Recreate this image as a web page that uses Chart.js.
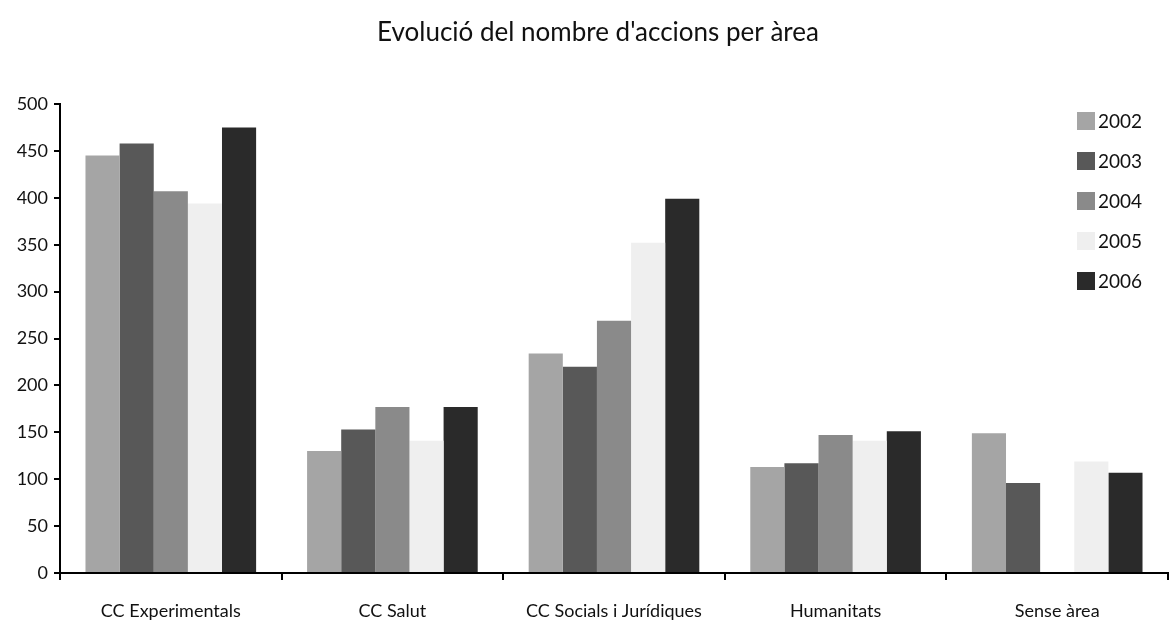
<!DOCTYPE html>
<html>
<head>
<meta charset="utf-8">
<script src="https://cdn.jsdelivr.net/npm/chart.js@4/dist/chart.umd.min.js"></script>
<style>
html,body{margin:0;padding:0;background:#fff;}
#wrap{position:relative;width:1169px;height:623px;}
</style>
</head>
<body>
<div id="wrap"><canvas id="c" width="1169" height="623"></canvas></div>
<script>
const categories = ["CC Experimentals", "CC Salut", "CC Socials i Jurídiques", "Humanitats", "Sense àrea"];
const years = ["2002", "2003", "2004", "2005", "2006"];
const v2002 = [445, 130, 234, 113, 149];
const v2003 = [458, 153, 220, 117, 96];
const v2004 = [407, 177, 269, 147, 0];
const v2005 = [394, 141, 352, 141, 119];
const v2006 = [475, 177, 399, 151, 107];
const yTicks = [0, 50, 100, 150, 200, 250, 300, 350, 400, 450, 500];
const colors = ["#a5a5a5", "#585858", "#8a8a8a", "#efefef", "#2a2a2a"];
const title = "Evolució del nombre d'accions per àrea";

const seriesValues = [v2002, v2003, v2004, v2005, v2006];
const FONT = "Lato, 'DejaVu Sans', sans-serif";

const overlayPlugin = {
  id: 'overlay',
  afterDraw(chart) {
    const ctx = chart.ctx;
    ctx.save();
    // title
    ctx.font = "26px " + FONT;
    ctx.fillStyle = '#111';
    ctx.textAlign = 'center';
    ctx.textBaseline = 'middle';
    ctx.fillText(title, 598, 33);
    // legend
    ctx.font = "19px " + FONT;
    ctx.textBaseline = 'middle';
    ctx.textAlign = 'left';
    chart.data.datasets.forEach((ds, i) => {
      const y = 121 + i * 40;
      ctx.fillStyle = ds.backgroundColor;
      ctx.fillRect(1077, y - 9, 18, 18);
      ctx.fillStyle = '#111';
      ctx.fillText(ds.label, 1098, y + 1);
    });
    ctx.restore();
  }
};

new Chart(document.getElementById('c'), {
  type: 'bar',
  data: {
    labels: categories,
    datasets: years.map((y, i) => ({
      label: y,
      data: seriesValues[i],
      backgroundColor: colors[i],
      borderWidth: 0,
      barPercentage: 1.0,
      categoryPercentage: 0.77
    }))
  },
  options: {
    responsive: false,
    animation: false,
    layout: { padding: { top: 104, right: 1, left: 0, bottom: 0 } },
    plugins: {
      legend: { display: false },
      tooltip: { enabled: false },
      title: { display: false }
    },
    scales: {
      x: {
        grid: { display: true, drawOnChartArea: false, offset: true, tickLength: 7, color: '#000', lineWidth: 2 },
        border: { display: true, color: '#000', width: 2 },
        ticks: { color: '#111', font: { family: FONT, size: 18 }, padding: 20, maxRotation: 0 },
        afterFit(scale) { scale.height = 50; }
      },
      y: {
        min: 0, max: 500,
        afterBuildTicks(scale) { scale.ticks = yTicks.map(v => ({ value: v })); },
        grid: { display: true, drawOnChartArea: false, tickLength: 6, color: '#000', lineWidth: 2 },
        border: { display: true, color: '#000', width: 2 },
        ticks: { color: '#111', font: { family: FONT, size: 18 }, padding: 6 },
        afterFit(scale) { scale.width = 60; }
      }
    }
  },
  plugins: [overlayPlugin]
});
</script>
</body>
</html>
